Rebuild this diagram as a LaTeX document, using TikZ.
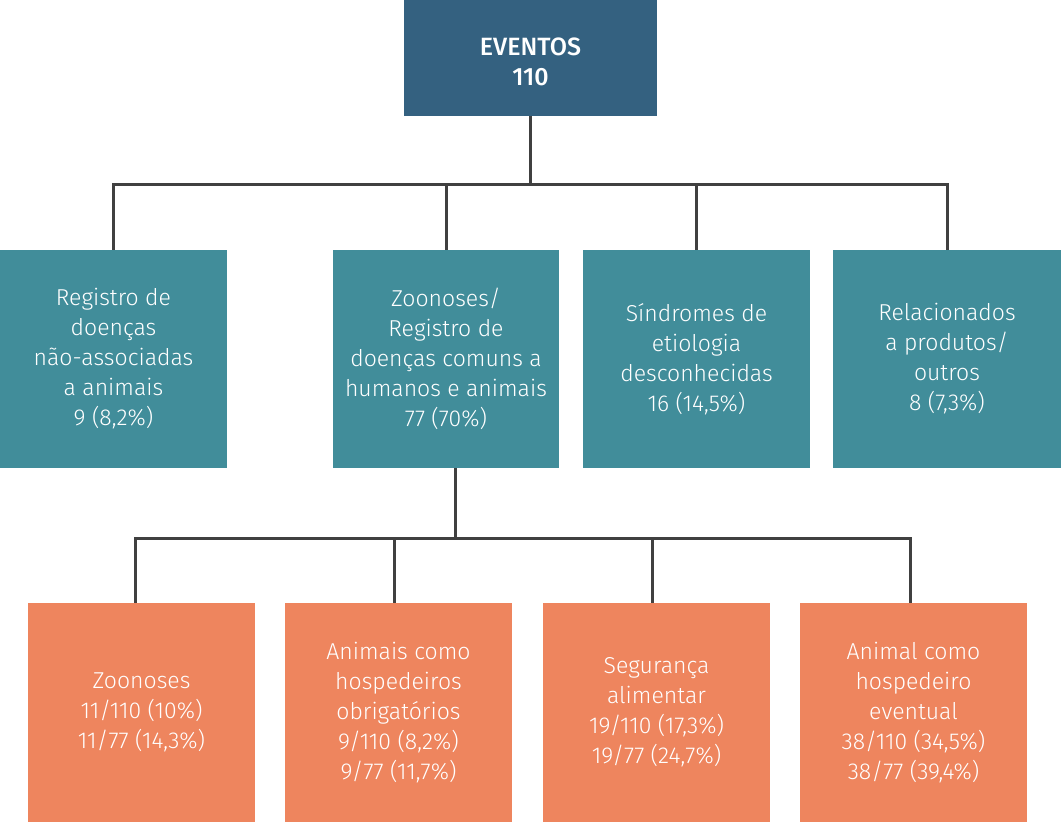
\documentclass[tikz,border=0pt]{standalone}
\usepackage{fontspec}
\setmainfont{Fira Sans}[UprightFont=* Light, BoldFont=* Medium]
\usetikzlibrary{positioning}
\definecolor{topblue}{HTML}{346180}
\definecolor{teal}{HTML}{418D9A}
\definecolor{orange}{HTML}{EE855E}
\definecolor{linegray}{HTML}{404040}

\begin{document}
\begin{tikzpicture}[
		x=1pt, y=-1pt,
		box/.style={rectangle, inner sep=0pt, align=center, text=white, font=\fontsize{23}{30}\selectfont},
		topbox/.style={box, fill=topblue, minimum width=253pt, minimum height=116pt, font=\fontsize{25}{30}\selectfont\bfseries},
		catbox/.style={box, fill=teal, minimum height=218pt},
		subbox/.style={box, fill=orange, minimum width=227pt, minimum height=219pt},
		line/.style={draw=linegray, line width=3pt}
	]
	\useasboundingbox (0,0) rectangle (1061,822);

	% top
	\node[topbox] (top) at (530.5, 58) {\rule{0pt}{26pt}EVENTOS\\110};

	% categories
	\node[catbox, minimum width=227pt] (r1) at (113.5, 359) {Registro de\\doenças\\não-associadas\\a animais\\9 (8,2\%)};
	\node[catbox, minimum width=226pt] (r2) at (446, 359) {Zoonoses/\\Registro de\\doenças comuns a\\humanos e animais\\77 (70\%)};
	\node[catbox, minimum width=227pt] (r3) at (696.5, 359) {Síndromes de\\etiologia\\desconhecidas\\16 (14,5\%)};
	\node[catbox, minimum width=228pt] (r4) at (947, 359) {Relacionados\\a produtos/\\outros\\8 (7,3\%)};

	% zoonoses
	\node[subbox] (z1) at (141.5, 712.5) {Zoonoses\\11/110 (10\%)\\11/77 (14,3\%)};
	\node[subbox] (z2) at (398.5, 712.5) {Animais como\\hospedeiros\\obrigatórios\\9/110 (8,2\%)\\9/77 (11,7\%)};
	\node[subbox] (z3) at (656.5, 712.5) {Segurança\\alimentar\\19/110 (17,3\%)\\19/77 (24,7\%)};
	\node[subbox] (z4) at (913.5, 712.5) {Animal como\\hospedeiro\\eventual\\38/110 (34,5\%)\\38/77 (39,4\%)};

	% connectors
	\coordinate (bus1) at (530.5, 184);
	\draw[line] (top.south) -- (bus1);
	\draw[line] (r1.north) |- (bus1) -| (r4.north);
	\foreach \n in {r2,r3}
		\draw[line] (\n.north) -- (\n.north |- bus1);

	\coordinate (bus2) at (455, 538);
	\draw[line] (r2.south -| bus2) -- (bus2);
	\draw[line] ([xshift=-6.5pt]z1.north) |- (bus2) -| ([xshift=-3.5pt]z4.north);
	\draw[line] ([xshift=-4.5pt]z2.north) -- ([xshift=-4.5pt]z2.north |- bus2);
	\draw[line] ([xshift=-4.5pt]z3.north) -- ([xshift=-4.5pt]z3.north |- bus2);

\end{tikzpicture}
\end{document}
